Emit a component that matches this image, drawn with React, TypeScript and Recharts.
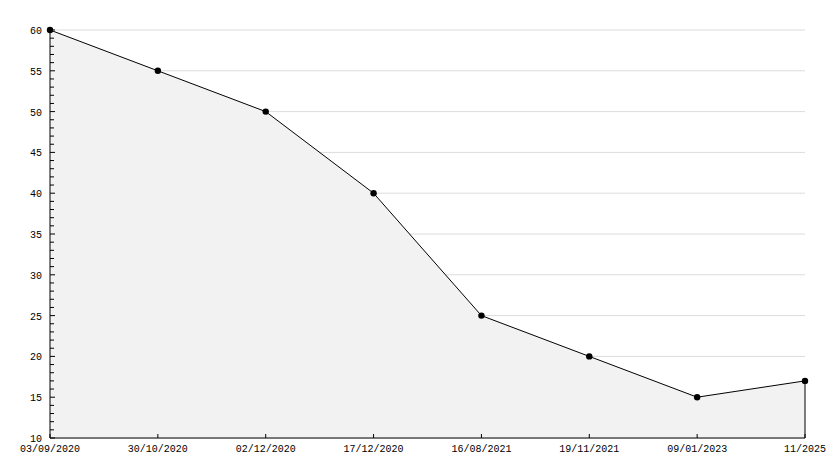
import React from "react";
import {
  AreaChart,
  Area,
  XAxis,
  YAxis,
  CartesianGrid,
  ReferenceLine,
} from "recharts";

const dates = [
  "03/09/2020",
  "30/10/2020",
  "02/12/2020",
  "17/12/2020",
  "16/08/2021",
  "19/11/2021",
  "09/01/2023",
  "11/2025",
];
const values = [60, 55, 50, 40, 25, 20, 15, 17];
const majorTicks = [10, 15, 20, 25, 30, 35, 40, 45, 50, 55, 60];
const minorTicks = Array.from({ length: 51 }, (_, i) => 10 + i);

const data = dates.map((date, i) => ({ date, value: values[i] }));
const lastPoint = data[data.length - 1];

const font = "'Liberation Mono', 'DejaVu Sans Mono', monospace";

const YTick = (props: any) => {
  const { x, y, payload } = props;
  const isMajor = payload.value % 5 === 0;
  return (
    <g>
      <line x1={x} y1={y} x2={x + (isMajor ? 5 : 4)} y2={y} stroke="#000" />
      {isMajor && (
        <text
          x={x - 8}
          y={y}
          dy={4}
          textAnchor="end"
          fontSize={10}
          fontFamily={font}
          fill="#000"
        >
          {payload.value}
        </text>
      )}
    </g>
  );
};

const XTick = (props: any) => {
  const { x, y, payload } = props;
  return (
    <g>
      <line x1={x} y1={y} x2={x} y2={y - 4} stroke="#000" />
      <text
        x={x}
        y={y}
        dy={14}
        textAnchor="middle"
        fontSize={10}
        fontFamily={font}
        fill="#000"
      >
        {payload.value}
      </text>
    </g>
  );
};

const Dot = (props: any) => {
  const { cx, cy, index } = props;
  return <circle key={index} cx={cx} cy={cy} r={3.2} fill="#000" />;
};

export default function App() {
  return (
    <div style={{ position: "absolute", left: 0, top: 0, background: "#fff" }}>
      <AreaChart
        width={834}
        height={468}
        data={data}
        margin={{ top: 30, right: 29, left: 0, bottom: 0 }}
      >
        <CartesianGrid
          vertical={false}
          stroke="#dcdcdc"
          horizontalValues={majorTicks}
        />
        <XAxis
          dataKey="date"
          interval={0}
          height={30}
          tickSize={0}
          tickMargin={0}
          tickLine={false}
          axisLine={{ stroke: "#000" }}
          tick={<XTick />}
        />
        <YAxis
          domain={[10, 60]}
          ticks={minorTicks}
          interval={0}
          width={50}
          tickSize={0}
          tickMargin={0}
          tickLine={false}
          axisLine={{ stroke: "#000" }}
          tick={<YTick />}
        />
        <Area
          type="linear"
          dataKey="value"
          stroke="#000"
          strokeWidth={1}
          fill="#f2f2f2"
          fillOpacity={1}
          dot={<Dot />}
          activeDot={false}
          isAnimationActive={false}
        />
        <ReferenceLine
          segment={[
            { x: lastPoint.date, y: 10 },
            { x: lastPoint.date, y: lastPoint.value },
          ]}
          stroke="#000"
        />
      </AreaChart>
    </div>
  );
}
